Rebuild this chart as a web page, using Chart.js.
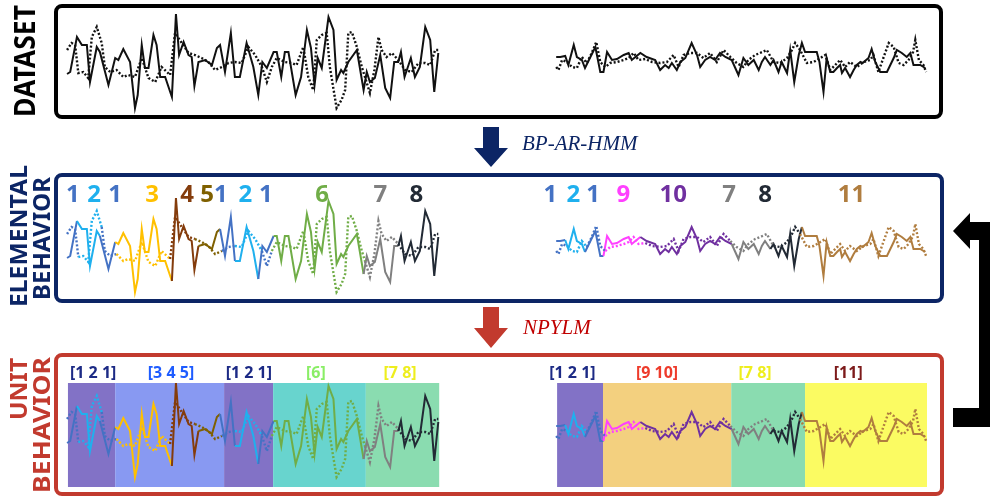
<!DOCTYPE html>
<html>
<head>
<meta charset="utf-8">
<script src="https://cdn.jsdelivr.net/npm/chart.js@4.4.0/dist/chart.umd.min.js"></script>
<style>
  html, body { margin: 0; padding: 0; background: #fff; overflow: hidden; }
</style>
</head>
<body>
<canvas id="fig" width="990" height="498"></canvas>
<script>
// ---- data (time in samples, value in arbitrary units) ----
// left recording
const leftT = [0,0.7,2.2,3.3,4.4,5.1,6.6,7.3,9.2,10.7,11.4,12.5,14.0,15.1,15.7,16.6,17.3,18.1,19.2,19.9,20.7,21.8,23.3,24.2,24.9,25.9,27.0,27.7,28.3,29.2,30.7,32.2,33.3,34.0,35.1,36.4,37.3,38.4,39.9,41.4,42.5,43.4,44.4,45.9,46.6,47.6,48.4,49.2,50.8,52.0,53.3,54.2,55.0,55.7,56.6,58.1,59.2,59.9,60.9,61.4,62.5,64.4,65.9,66.6,67.3,68.4,69.6,70.7,71.8,72.7,73.6,74.2,75.0,76.4,77.3,78.4,79.6,80.7,81.6,82.5];
const leftSolid = [-1.1,-0.9,2.6,1.8,1.8,-1.9,1.6,1.1,-2.2,0.5,0.3,1.4,0.1,-4.5,-3.2,1.8,-0.5,-0.5,2.8,1.8,-1.4,-1.4,-3.4,4.9,0.8,2.1,0.8,0.6,-2.3,0.1,0.3,-0.2,1.5,1.8,-0.9,3.0,-1.4,-1.4,2.0,-0.4,-3.2,0.1,-0.5,1.1,1.1,-1.4,1.1,1.1,-3.2,-1.4,3.3,1.5,-2.2,0.5,-0.5,4.6,3.3,-1.7,-0.7,-1.0,0.1,1.3,-2.7,-0.9,-1.9,-1.5,0.8,-2.5,-3.5,0.1,0.1,1.1,-1.4,0.5,-1.4,-0.4,3.6,2.3,-2.9,1.0];
const leftDotT = [0,1.0,1.8,2.5,3.6,4.7,5.5,6.6,7.7,8.4,9.6,11.0,12.5,13.6,15.1,16.6,18.1,19.6,21.0,22.9,24.0,25.5,27.0,28.4,29.9,31.4,32.9,34.4,35.9,37.3,38.8,40.3,41.8,43.3,44.4,45.5,46.6,48.4,49.9,51.0,52.5,53.6,54.7,55.5,56.6,57.7,58.4,59.9,61.0,61.8,62.5,63.3,64.4,65.5,66.2,67.3,68.3,69.2,69.9,71.0,72.2,73.6,75.1,76.6,78.1,79.6,80.7,81.8,82.5];
const leftDot = [1.3,2.0,1.8,-1.0,-0.9,-1.5,2.6,3.6,2.0,-0.4,-0.9,-0.7,-1.4,-1.2,-1.4,0.5,-1.5,-1.9,-0.4,-1.2,3.0,2.0,1.0,0.8,0.5,0.1,-0.7,-0.4,0.0,0.1,0.0,1.6,0.8,-0.4,-1.9,-0.4,0.5,0.1,0.0,-0.2,1.6,-1.4,-2.7,2.3,2.8,3.0,-0.4,-4.5,-3.7,-2.7,3.0,3.1,1.6,-0.4,-1.4,-3.0,-0.7,2.6,1.3,0.6,1.0,0.3,-0.7,-0.9,0.0,0.0,-0.2,1.3,1.3];

// right recording
const rightT = [0,0.9,2.0,2.7,3.9,4.6,5.7,6.4,7.6,8.7,9.8,10.5,11.3,12.4,13.5,15.0,16.1,16.8,17.6,18.7,20.1,22.0,23.1,24.2,25.0,25.7,26.8,27.6,28.7,30.1,31.3,32.0,33.1,34.2,35.3,36.4,37.6,39.0,40.5,41.6,42.7,43.9,45.0,45.7,46.4,47.6,48.3,49.4,50.1,51.3,52.0,52.9,53.9,54.6,55.3,57.9,58.5,59.4,60.1,60.9,61.6,62.4,63.1,63.5,64.2,65.3,66.1,66.8,67.6,68.1,69.4,70.1,70.9,72.0,73.5,75.0,75.7,76.8,77.9,78.7,79.4,80.9,82.0];
const rightSolid = [0.6,0.6,0.7,-0.2,1.8,0.6,0.3,-0.5,0.6,1.6,-0.9,-0.9,1.1,0.3,0.4,0.8,1.0,0.3,0.6,1.0,0.6,0.3,-0.7,-0.2,-0.5,0.0,-0.7,0.1,0.5,2.0,0.8,-0.4,0.3,0.6,0.3,1.0,0.6,0.3,-1.2,0.5,-0.2,0.3,-0.7,0.1,0.6,-0.2,0.3,-0.9,0.1,-1.0,1.3,-1.9,0.8,2.0,1.1,1.1,0.1,-2.9,0.5,-0.9,-0.9,-0.5,-0.2,-1.0,-0.5,-1.4,-0.7,-0.2,0.1,0.0,0.5,1.4,0.1,-0.9,-0.9,0.5,1.3,1.0,0.6,1.0,-0.2,-0.2,-0.5];
const rightDotT = [0,0.5,1.3,2.4,3.5,4.6,5.7,6.8,7.9,8.9,9.8,10.9,12.0,13.5,15.0,16.1,17.2,18.3,19.8,21.3,23.1,24.6,26.1,27.2,28.3,29.8,31.3,32.7,34.2,35.7,37.2,38.7,40.1,41.6,42.7,44.2,45.3,46.8,48.3,49.8,51.3,52.4,53.1,54.2,55.7,57.2,58.7,59.8,60.9,62.0,63.1,64.2,65.3,66.8,68.3,69.8,70.5,71.6,72.7,73.9,75.0,76.1,77.2,78.3,79.3,79.8,80.6,81.6,82.2];
const rightDot = [-0.4,-0.7,0.3,0.1,-0.4,-0.5,0.6,0.0,1.0,2.1,0.1,-0.4,0.0,0.1,0.3,0.5,1.0,0.3,0.4,0.1,0.0,0.1,0.8,-0.4,0.8,1.0,1.0,0.5,1.0,0.1,1.3,0.6,0.0,-0.4,0.3,0.8,1.0,1.3,0.1,0.0,0.5,1.3,2.0,1.3,0.0,0.1,0.5,0.8,-0.7,-0.2,0.3,-0.4,0.1,-0.4,0.1,0.3,0.8,-0.9,0.5,2.0,1.6,0.0,-0.2,0.3,1.1,2.3,0.3,-0.2,-0.9];

// elemental behaviours (BP-AR-HMM): id of each segment and the time it ends
const leftSegIds = [1,2,1,3,4,5,1,2,1,6,7,8];
const leftSegEnd = [2.4,7.3,10.7,23.3,28.9,34.4,36.9,42.9,45.6,66.2,73.6,83];
const rightSegIds = [1,2,1,9,10,7,8,11];
const rightSegEnd = [2.0,6.9,10.4,19.3,38.7,47.6,54.9,83];

// unit behaviours (NPYLM)
const unitStart = 0.2;
const leftUnits = ['[1 2 1]','[3 4 5]','[1 2 1]','[6]','[7 8]'];
const leftUnitEnd = [10.7,34.9,45.8,66.4,82.7];
const rightUnits = ['[1 2 1]','[9 10]','[7 8]','[11]'];
const rightUnitEnd = [10.4,38.9,55.3,82.4];

// ---- layout / style ----
const leftTagT = [1.3,6.0,10.7,18.9,26.7,31.1,34.2,39.6,44.2,56.7,69.6,77.6];
const rightTagT = [-1.3,3.8,8.2,14.9,26.0,38.4,46.4,65.6];
const leftUnitTagT = [5.8,23.1,40.4,55.3,74.0];
const rightUnitTagT = [3.6,22.4,44.2,64.9];

const behaviorColor = {
  1: '#4472c4', 2: '#1fb0ee', 3: '#ffc000', 4: '#843c0c', 5: '#7f6000', 6: '#70ad47',
  7: '#808080', 8: '#222a35', 9: '#ff40ff', 10: '#7030a0', 11: '#b07d3f'
};
const unitFill = {
  '[1 2 1]': '#8272c6', '[3 4 5]': '#8899f2', '[6]': '#68d4ce', '[7 8]': '#8adcb0',
  '[9 10]': '#f3d07f', '[11]': '#fbfb62'
};
const unitText = {
  '[1 2 1]': '#1c2a85', '[3 4 5]': '#1e5cff', '[6]': '#8aee66', '[7 8]': '#eeee1e',
  '[9 10]': '#ee3b2b', '[11]': '#7d1b1b'
};
const NAVY = '#0c2565';
const RED = '#c23a2e';

function pts(t, v) {
  return t.map((x, i) => ({ x: x, y: v[i] }));
}

function segColor(ends, ids) {
  return ctx => {
    const m = (ctx.p0.parsed.x + ctx.p1.parsed.x) / 2;
    let k = ends.findIndex(e => m <= e);
    if (k < 0) k = ids.length - 1;
    return behaviorColor[ids[k]];
  };
}

function line(data, xAxis, yAxis, dotted, colorFn) {
  const ds = {
    data: data, xAxisID: xAxis, yAxisID: yAxis,
    borderColor: '#111', borderWidth: dotted ? 2.4 : 2,
    borderDash: dotted ? [2, 2] : [], pointRadius: 0, tension: 0,
    fill: false, clip: false
  };
  if (colorFn) ds.segment = { borderColor: colorFn };
  return ds;
}

const datasets = [];
[['yTop', false], ['yMid', true], ['yBot', true]].forEach(([ax, colored]) => {
  const lc = colored ? segColor(leftSegEnd, leftSegIds) : null;
  const rc = colored ? segColor(rightSegEnd, rightSegIds) : null;
  datasets.push(line(pts(leftDotT, leftDot), 'xL', ax, true, lc));
  datasets.push(line(pts(leftT, leftSolid), 'xL', ax, false, lc));
  datasets.push(line(pts(rightDotT, rightDot), 'xR', ax, true, rc));
  datasets.push(line(pts(rightT, rightSolid), 'xR', ax, false, rc));
});

function vtext(ctx, txt, cx, cy, len, cap, color) {
  const size = cap / 0.714;
  ctx.save();
  ctx.font = 'bold ' + size + 'px "Noto Sans", sans-serif';
  const w = ctx.measureText(txt).width;
  ctx.translate(cx, cy);
  ctx.rotate(-Math.PI / 2);
  ctx.scale(len / w, 1);
  ctx.fillStyle = color;
  ctx.textAlign = 'center';
  ctx.textBaseline = 'alphabetic';
  ctx.fillText(txt, 0, cap / 2);
  ctx.restore();
}

function downArrow(ctx, cx, y0, y1, y2, color) {
  ctx.fillStyle = color;
  ctx.beginPath();
  ctx.moveTo(cx - 8, y0); ctx.lineTo(cx + 8, y0); ctx.lineTo(cx + 8, y1);
  ctx.lineTo(cx + 17, y1); ctx.lineTo(cx, y2); ctx.lineTo(cx - 17, y1);
  ctx.lineTo(cx - 8, y1); ctx.closePath();
  ctx.fill();
}

function box(ctx, x, y, w, h, color) {
  ctx.save();
  ctx.strokeStyle = color;
  ctx.lineWidth = 4;
  ctx.beginPath();
  ctx.roundRect(x, y, w, h, 6);
  ctx.stroke();
  ctx.restore();
}

const figure = {
  id: 'figure',
  beforeDatasetsDraw(chart) {
    const ctx = chart.ctx, s = chart.scales;
    const yA = s.yBot.getPixelForValue(4.9), yB = s.yBot.getPixelForValue(-5.5);
    [[s.xL, leftUnits, leftUnitEnd], [s.xR, rightUnits, rightUnitEnd]].forEach(([xs, names, ends]) => {
      let a = unitStart;
      names.forEach((n, i) => {
        const x0 = xs.getPixelForValue(a), x1 = xs.getPixelForValue(ends[i]);
        ctx.fillStyle = unitFill[n];
        ctx.fillRect(x0, yA, x1 - x0, yB - yA);
        a = ends[i];
      });
    });
  },
  afterDatasetsDraw(chart) {
    const ctx = chart.ctx, s = chart.scales;
    ctx.save();
    box(ctx, 56, 6, 885, 111, '#000');
    box(ctx, 56, 175, 886, 126, NAVY);
    box(ctx, 56, 355, 886, 139, RED);

    vtext(ctx, 'DATASET', 25, 61, 112, 20, '#000');
    vtext(ctx, 'ELEMENTAL', 18.5, 236, 142, 17, NAVY);
    vtext(ctx, 'BEHAVIOR', 41.5, 238.5, 123, 17, NAVY);
    vtext(ctx, 'UNIT', 18.5, 389, 62, 17, RED);
    vtext(ctx, 'BEHAVIOR', 41.5, 425, 136, 17, RED);

    downArrow(ctx, 491, 127, 148, 167, NAVY);
    downArrow(ctx, 491, 307, 328, 348, RED);
    ctx.font = 'italic 21px "Liberation Serif", serif';
    ctx.textBaseline = 'middle';
    ctx.textAlign = 'left';
    ctx.fillStyle = NAVY;
    ctx.fillText('BP-AR-HMM', 522, 144);
    ctx.fillStyle = '#c00000';
    ctx.fillText('NPYLM', 523, 328);

    // feedback bracket on the right
    ctx.fillStyle = '#000';
    ctx.beginPath();
    ctx.moveTo(953, 231); ctx.lineTo(970, 213); ctx.lineTo(970, 222);
    ctx.lineTo(990, 222); ctx.lineTo(990, 427); ctx.lineTo(953, 427);
    ctx.lineTo(953, 408); ctx.lineTo(979, 408); ctx.lineTo(979, 240);
    ctx.lineTo(970, 240); ctx.lineTo(970, 249); ctx.closePath();
    ctx.fill();

    // elemental behaviour ids
    ctx.font = 'bold 24px "Noto Sans", sans-serif';
    ctx.textAlign = 'center';
    ctx.textBaseline = 'middle';
    const yTag = s.yMid.getPixelForValue(5.2);
    leftSegIds.forEach((id, i) => {
      ctx.fillStyle = behaviorColor[id];
      ctx.fillText(String(id), s.xL.getPixelForValue(leftTagT[i]), yTag);
    });
    rightSegIds.forEach((id, i) => {
      ctx.fillStyle = behaviorColor[id];
      ctx.fillText(String(id), s.xR.getPixelForValue(rightTagT[i]), yTag);
    });

    // unit behaviour names
    ctx.font = 'bold 16px "Noto Sans", sans-serif';
    const yUnit = s.yBot.getPixelForValue(5.9);
    leftUnits.forEach((n, i) => {
      ctx.fillStyle = unitText[n];
      ctx.fillText(n, s.xL.getPixelForValue(leftUnitTagT[i]), yUnit);
    });
    rightUnits.forEach((n, i) => {
      ctx.fillStyle = unitText[n];
      ctx.fillText(n, s.xR.getPixelForValue(rightUnitTagT[i]), yUnit);
    });
    ctx.restore();
  }
};

// scales: 1 sample = 4.5 px, 1 value unit = 10 px; each panel gets its own y axis
new Chart(document.getElementById('fig'), {
  type: 'line',
  data: { datasets: datasets },
  plugins: [figure],
  options: {
    responsive: false,
    animation: false,
    devicePixelRatio: 1,
    layout: { padding: 0 },
    plugins: { legend: { display: false }, tooltip: { enabled: false } },
    scales: {
      xL: { type: 'linear', display: false, min: -14.9, max: 205.1 },
      xR: { type: 'linear', display: false, min: -123.6, max: 96.4 },
      yTop: { type: 'linear', display: false, min: -43.5, max: 6.3 },
      yMid: { type: 'linear', display: false, min: -25.1, max: 24.7 },
      yBot: { type: 'linear', display: false, min: -6.6, max: 43.2 }
    }
  }
});
</script>
</body>
</html>
